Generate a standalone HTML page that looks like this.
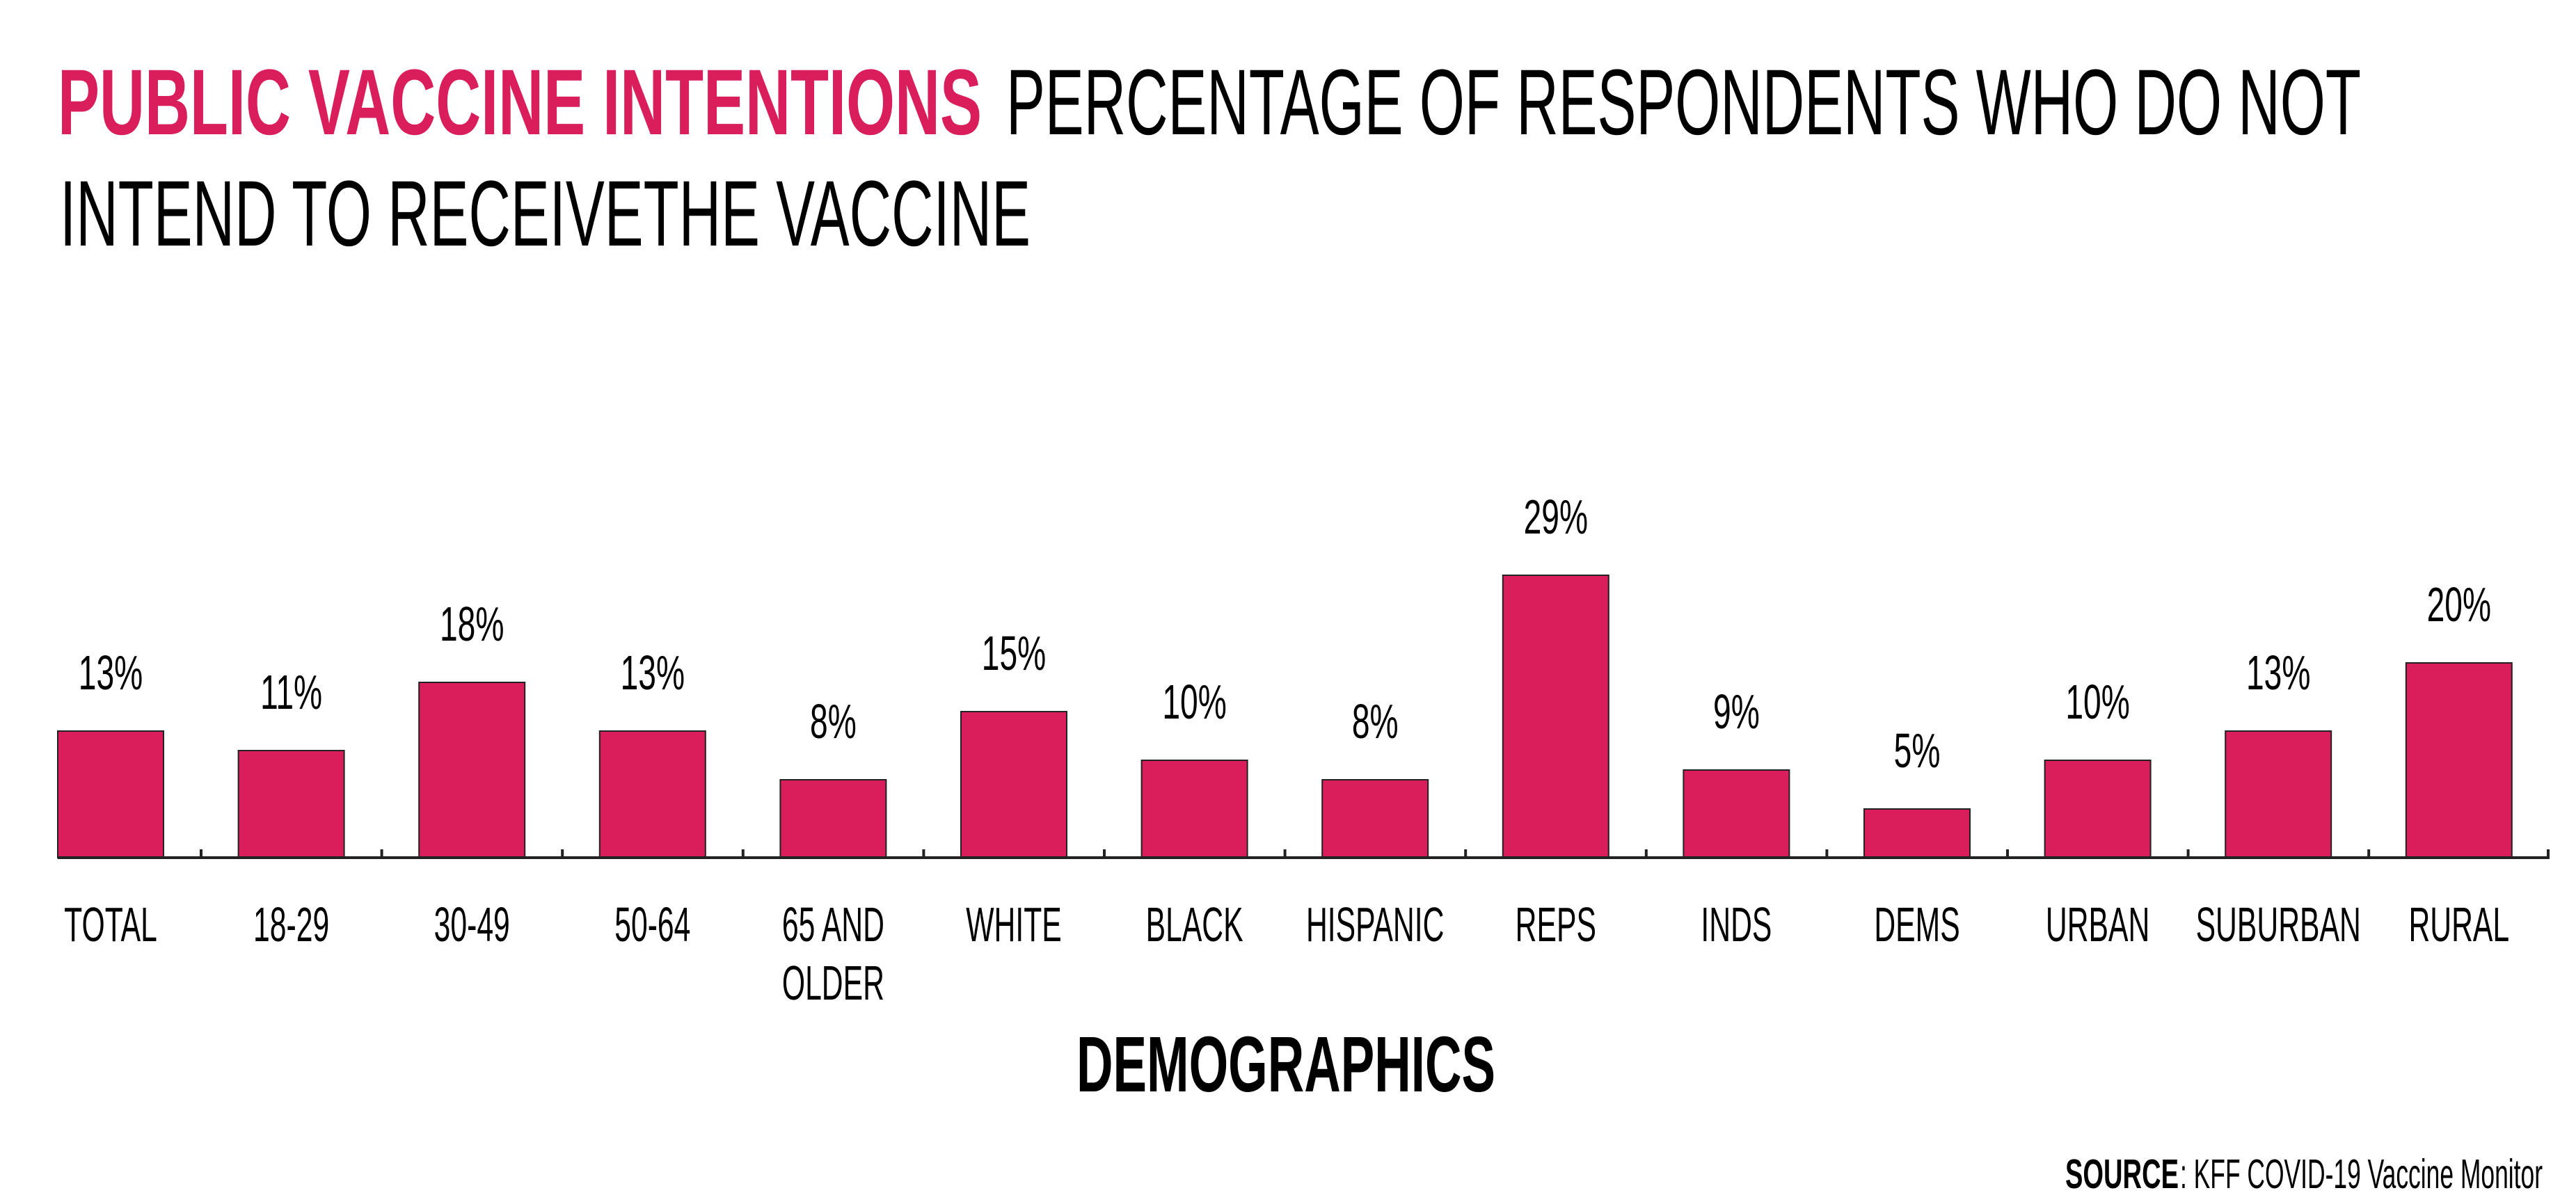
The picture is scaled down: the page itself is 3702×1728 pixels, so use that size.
<!DOCTYPE html>
<html><head><meta charset="utf-8"><style>html,body{margin:0;padding:0;background:#fff}svg{display:block}</style></head>
<body>
<svg width="3702" height="1728" viewBox="0 0 3702 1728" xmlns="http://www.w3.org/2000/svg" font-family="'Liberation Sans', sans-serif">
<rect width="3702" height="1728" fill="#fff"/>
<text x="83" y="193" font-size="134" font-weight="bold" fill="#d91e5b" textLength="1328" lengthAdjust="spacingAndGlyphs">PUBLIC VACCINE INTENTIONS</text>
<text x="1446" y="193" font-size="134" fill="#000" textLength="1947" lengthAdjust="spacingAndGlyphs">PERCENTAGE OF RESPONDENTS WHO DO NOT</text>
<text x="86" y="353" font-size="134" fill="#000" textLength="1395" lengthAdjust="spacingAndGlyphs">INTEND TO RECEIVETHE VACCINE</text>
<g id="bars" fill="#d91e5b" stroke="#222" stroke-width="2">
<rect x="83" y="1051" width="152" height="182"/>
<rect x="342.6" y="1079" width="152" height="154"/>
<rect x="602.2" y="981" width="152" height="252"/>
<rect x="861.8" y="1051" width="152" height="182"/>
<rect x="1121.4" y="1121" width="152" height="112"/>
<rect x="1381" y="1023" width="152" height="210"/>
<rect x="1640.6" y="1093" width="152" height="140"/>
<rect x="1900.2" y="1121" width="152" height="112"/>
<rect x="2159.8" y="827" width="152" height="406"/>
<rect x="2419.4" y="1107" width="152" height="126"/>
<rect x="2679" y="1163" width="152" height="70"/>
<rect x="2938.6" y="1093" width="152" height="140"/>
<rect x="3198.2" y="1051" width="152" height="182"/>
<rect x="3457.8" y="953" width="152" height="280"/>
</g>
<rect x="83" y="1231" width="3581" height="4" fill="#222"/>
<g stroke="#222" stroke-width="4">
<line x1="289" y1="1221" x2="289" y2="1233"/><line x1="548.6" y1="1221" x2="548.6" y2="1233"/><line x1="808.2" y1="1221" x2="808.2" y2="1233"/><line x1="1067.8" y1="1221" x2="1067.8" y2="1233"/><line x1="1327.4" y1="1221" x2="1327.4" y2="1233"/><line x1="1587" y1="1221" x2="1587" y2="1233"/><line x1="1846.6" y1="1221" x2="1846.6" y2="1233"/><line x1="2106.2" y1="1221" x2="2106.2" y2="1233"/><line x1="2365.8" y1="1221" x2="2365.8" y2="1233"/><line x1="2625.4" y1="1221" x2="2625.4" y2="1233"/><line x1="2885" y1="1221" x2="2885" y2="1233"/><line x1="3144.6" y1="1221" x2="3144.6" y2="1233"/><line x1="3404.2" y1="1221" x2="3404.2" y2="1233"/><line x1="3662" y1="1221" x2="3662" y2="1233"/>
</g>
<g font-size="70" fill="#000" text-anchor="middle">
<text transform="translate(159,991) scale(0.66,1)">13%</text>
<text transform="translate(418.6,1019) scale(0.66,1)">11%</text>
<text transform="translate(678.2,921) scale(0.66,1)">18%</text>
<text transform="translate(937.8,991) scale(0.66,1)">13%</text>
<text transform="translate(1197.4,1061) scale(0.66,1)">8%</text>
<text transform="translate(1457,963) scale(0.66,1)">15%</text>
<text transform="translate(1716.6,1033) scale(0.66,1)">10%</text>
<text transform="translate(1976.2,1061) scale(0.66,1)">8%</text>
<text transform="translate(2235.8,767) scale(0.66,1)">29%</text>
<text transform="translate(2495.4,1047) scale(0.66,1)">9%</text>
<text transform="translate(2755,1103) scale(0.66,1)">5%</text>
<text transform="translate(3014.6,1033) scale(0.66,1)">10%</text>
<text transform="translate(3274.2,991) scale(0.66,1)">13%</text>
<text transform="translate(3533.8,893) scale(0.66,1)">20%</text>
</g>
<g font-size="70" fill="#000" text-anchor="middle">
<text transform="translate(159,1353) scale(0.61,1)">TOTAL</text>
<text transform="translate(418.6,1353) scale(0.61,1)">18-29</text>
<text transform="translate(678.2,1353) scale(0.61,1)">30-49</text>
<text transform="translate(937.8,1353) scale(0.61,1)">50-64</text>
<text transform="translate(1197.4,1353) scale(0.61,1)">65 AND</text>
<text transform="translate(1197.4,1437) scale(0.61,1)">OLDER</text>
<text transform="translate(1457,1353) scale(0.61,1)">WHITE</text>
<text transform="translate(1716.6,1353) scale(0.61,1)">BLACK</text>
<text transform="translate(1976.2,1353) scale(0.61,1)">HISPANIC</text>
<text transform="translate(2235.8,1353) scale(0.61,1)">REPS</text>
<text transform="translate(2495.4,1353) scale(0.61,1)">INDS</text>
<text transform="translate(2755,1353) scale(0.61,1)">DEMS</text>
<text transform="translate(3014.6,1353) scale(0.61,1)">URBAN</text>
<text transform="translate(3274.2,1353) scale(0.61,1)">SUBURBAN</text>
<text transform="translate(3533.8,1353) scale(0.61,1)">RURAL</text>
</g>
<text x="1547" y="1569" font-size="113" font-weight="bold" fill="#000" textLength="602" lengthAdjust="spacingAndGlyphs">DEMOGRAPHICS</text>
<text x="2968" y="1708" font-size="59" font-weight="bold" fill="#000" textLength="163" lengthAdjust="spacingAndGlyphs">SOURCE</text>
<text x="3133" y="1708" font-size="59" fill="#000" textLength="521" lengthAdjust="spacingAndGlyphs">: KFF COVID-19 Vaccine Monitor</text>
</svg>
</body></html>
